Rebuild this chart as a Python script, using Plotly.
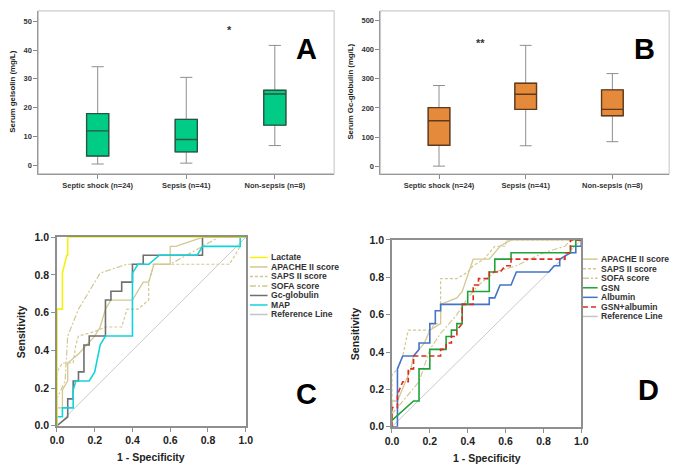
import plotly.graph_objects as go

W, H = 684, 474
FONT = "Liberation Sans, Arial, sans-serif"

# ---------------- Data: box plots ----------------
groups = ["Septic shock (n=24)", "Sepsis (n=41)", "Non-sepsis (n=8)"]
gsn_low = [0.4, 0.7, 6.8]
gsn_q1 = [3.2, 4.6, 13.9]
gsn_med = [11.9, 8.9, 24.7]
gsn_q3 = [17.9, 15.9, 26.0]
gsn_high = [34.2, 30.5, 41.6]

gc_low = [0, 70, 84]
gc_q1 = [72, 195, 173]
gc_med = [156, 247, 195]
gc_q3 = [201, 285, 262]
gc_high = [277, 415, 318]

# ---------------- Data: ROC panel C ----------------
lactate_fpr = [0, 0, 0.029, 0.029, 0.052, 0.057, 0.057, 1.0]
lactate_tpr = [0, 0.619, 0.619, 0.81, 0.905, 0.905, 1.0, 1.0]
apacheC_fpr = [0, 0, 0.029, 0.029, 0.057, 0.057, 0.114, 0.2, 0.229, 0.257, 0.286, 0.4, 0.457, 0.486, 0.514, 0.6, 0.6, 0.629, 0.771, 1.0]
apacheC_tpr = [0, 0.095, 0.095, 0.19, 0.238, 0.333, 0.381, 0.476, 0.524, 0.619, 0.667, 0.667, 0.762, 0.762, 0.857, 0.857, 0.952, 0.952, 1.0, 1.0]
sapsC_fpr = [0, 0, 0.029, 0.086, 0.1, 0.114, 0.2, 0.257, 0.343, 0.371, 0.429, 0.486, 0.486, 0.514, 0.914, 0.971, 0.971, 1.0]
sapsC_tpr = [0, 0.286, 0.333, 0.333, 0.429, 0.476, 0.5, 0.524, 0.524, 0.619, 0.619, 0.667, 0.762, 0.857, 0.857, 0.952, 1.0, 1.0]
sofaC_fpr = [0, 0, 0.043, 0.057, 0.114, 0.229, 0.371, 0.6, 0.857, 1.0]
sofaC_tpr = [0, 0.143, 0.238, 0.476, 0.619, 0.81, 0.857, 0.857, 1.0, 1.0]
gcC_fpr = [0, 0.057, 0.057, 0.086, 0.086, 0.114, 0.114, 0.143, 0.143, 0.171, 0.171, 0.257, 0.257, 0.286, 0.286, 0.343, 0.343, 0.4, 0.4, 0.457, 0.457, 0.771, 0.771, 1.0]
gcC_tpr = [0, 0.048, 0.143, 0.143, 0.238, 0.238, 0.286, 0.286, 0.429, 0.429, 0.476, 0.476, 0.667, 0.667, 0.714, 0.714, 0.762, 0.762, 0.857, 0.857, 0.905, 0.905, 1.0, 1.0]
mapC_fpr = [0, 0, 0.029, 0.029, 0.086, 0.086, 0.1, 0.171, 0.2, 0.229, 0.257, 0.4, 0.4, 0.429, 0.486, 0.543, 0.743, 0.771, 0.971, 0.971, 1.0]
mapC_tpr = [0, 0.048, 0.048, 0.095, 0.095, 0.19, 0.238, 0.238, 0.286, 0.429, 0.476, 0.476, 0.81, 0.857, 0.857, 0.905, 0.905, 0.952, 0.952, 1.0, 1.0]

# ---------------- Data: ROC panel D ----------------
apacheD_fpr = [0, 0, 0.029, 0.057, 0.1, 0.114, 0.171, 0.2, 0.257, 0.257, 0.343, 0.371, 0.429, 0.514, 0.571, 0.629, 1.0]
apacheD_tpr = [0, 0.138, 0.138, 0.207, 0.31, 0.379, 0.448, 0.517, 0.552, 0.655, 0.69, 0.724, 0.897, 0.897, 0.966, 1.0, 1.0]
sapsD_fpr = [0, 0, 0.029, 0.057, 0.086, 0.2, 0.229, 0.257, 0.257, 0.343, 0.4, 0.429, 0.486, 0.543, 0.6, 0.6, 1.0]
sapsD_tpr = [0, 0.276, 0.31, 0.379, 0.517, 0.517, 0.552, 0.552, 0.793, 0.793, 0.828, 0.862, 0.897, 0.966, 0.966, 1.0, 1.0]
sofaD_fpr = [0, 0, 0.029, 0.057, 0.114, 0.143, 0.2, 0.257, 0.343, 0.4, 0.457, 0.543, 0.657, 0.8, 0.914, 0.943, 1.0]
sofaD_tpr = [0, 0.069, 0.103, 0.138, 0.207, 0.241, 0.414, 0.5, 0.6, 0.69, 0.759, 0.828, 0.862, 0.931, 0.966, 1.0, 1.0]
gsnD_fpr = [0, 0.114, 0.143, 0.143, 0.2, 0.2, 0.286, 0.286, 0.314, 0.314, 0.343, 0.343, 0.371, 0.371, 0.4, 0.4, 0.514, 0.514, 0.543, 0.543, 0.629, 0.629, 0.943, 0.943, 0.971, 0.971, 1.0]
gsnD_tpr = [0.034, 0.138, 0.138, 0.31, 0.31, 0.414, 0.414, 0.483, 0.483, 0.517, 0.517, 0.552, 0.552, 0.655, 0.655, 0.724, 0.724, 0.828, 0.828, 0.897, 0.897, 0.931, 0.931, 0.966, 0.966, 1.0, 1.0]
albD_fpr = [0, 0.029, 0.029, 0.057, 0.114, 0.143, 0.143, 0.2, 0.2, 0.229, 0.229, 0.257, 0.257, 0.514, 0.514, 0.543, 0.571, 0.629, 0.657, 0.829, 0.857, 0.886, 0.886, 0.943, 0.971, 0.971, 1.0, 1.0]
albD_tpr = [0, 0, 0.31, 0.379, 0.379, 0.414, 0.448, 0.448, 0.552, 0.552, 0.621, 0.621, 0.655, 0.655, 0.69, 0.69, 0.759, 0.759, 0.828, 0.828, 0.862, 0.862, 0.897, 0.931, 0.931, 0.966, 0.966, 1.0]
comboD_fpr = [0, 0, 0.029, 0.029, 0.057, 0.086, 0.086, 0.114, 0.114, 0.257, 0.257, 0.286, 0.286, 0.314, 0.314, 0.343, 0.343, 0.371, 0.371, 0.429, 0.429, 0.457, 0.457, 0.514, 0.514, 0.571, 0.6, 0.629, 0.629, 0.914, 0.914, 0.943, 0.943, 1.0]
comboD_tpr = [0, 0.103, 0.103, 0.172, 0.241, 0.241, 0.31, 0.31, 0.379, 0.379, 0.414, 0.414, 0.448, 0.448, 0.483, 0.483, 0.517, 0.552, 0.655, 0.655, 0.759, 0.759, 0.793, 0.793, 0.828, 0.828, 0.862, 0.862, 0.897, 0.897, 0.931, 0.931, 1.0, 1.0]
ref_fpr = [0, 1]
ref_tpr = [0, 1]

# ---------------- Styles ----------------
TAN = "#d3c891"
C_LACT = "#f3f20c"
C_GC = "#6f6f6f"
C_MAP = "#12d3dc"
C_GSN = "#1ea33a"
C_ALB = "#4473c9"
C_COMBO = "#dd2a20"
C_REF = "#c4c4c4"
DASH_SAPS = "3px,2px"
DASH_SOFA = "6px,2px,2px,2px"
DASH_COMBO = "5px,3px"


def px(x):
    return x / W


def py(y):
    return 1 - y / H


fig = go.Figure()


def add_box(xa, ya, low, q1, med, q3, high, fill, edge):
    # whiskers (gray)
    fig.add_trace(go.Box(
        x=groups, lowerfence=low, q1=q1, median=med, q3=q3, upperfence=high,
        xaxis=xa, yaxis=ya, width=0.25, whiskerwidth=0.55,
        line=dict(color="#8e8e8e", width=1), fillcolor="rgba(0,0,0,0)",
        showlegend=False, hoverinfo="skip"))
    # filled box with darker edge/median
    fig.add_trace(go.Box(
        x=groups, lowerfence=q1, q1=q1, median=med, q3=q3, upperfence=q3,
        xaxis=xa, yaxis=ya, width=0.25, whiskerwidth=0,
        line=dict(color=edge, width=1.4), fillcolor=fill,
        showlegend=False))


add_box("x", "y", gsn_low, gsn_q1, gsn_med, gsn_q3, gsn_high, "#00cc88", "#25573f")
add_box("x2", "y2", gc_low, gc_q1, gc_med, gc_q3, gc_high, "#e48a3a", "#5e3a1c")


def add_roc(xa, ya, fpr, tpr, color, dash="solid", width=1.6, name=""):
    fig.add_trace(go.Scatter(x=fpr, y=tpr, mode="lines", xaxis=xa, yaxis=ya,
                             line=dict(color=color, dash=dash, width=width),
                             name=name, showlegend=False))


# panel C
add_roc("x3", "y3", ref_fpr, ref_tpr, C_REF, width=0.9, name="Reference Line")
add_roc("x3", "y3", sofaC_fpr, sofaC_tpr, TAN, DASH_SOFA, 1.2, "SOFA score")
add_roc("x3", "y3", sapsC_fpr, sapsC_tpr, TAN, DASH_SAPS, 1.2, "SAPS II score")
add_roc("x3", "y3", apacheC_fpr, apacheC_tpr, TAN, "solid", 1.3, "APACHE II score")
add_roc("x3", "y3", gcC_fpr, gcC_tpr, C_GC, "solid", 1.6, "Gc-globulin")
add_roc("x3", "y3", mapC_fpr, mapC_tpr, C_MAP, "solid", 1.6, "MAP")
add_roc("x3", "y3", lactate_fpr, lactate_tpr, C_LACT, "solid", 1.6, "Lactate")

# panel D
add_roc("x4", "y4", ref_fpr, ref_tpr, C_REF, width=0.9, name="Reference Line")
add_roc("x4", "y4", sofaD_fpr, sofaD_tpr, TAN, DASH_SOFA, 1.2, "SOFA score")
add_roc("x4", "y4", sapsD_fpr, sapsD_tpr, TAN, DASH_SAPS, 1.2, "SAPS II score")
add_roc("x4", "y4", apacheD_fpr, apacheD_tpr, TAN, "solid", 1.3, "APACHE II score")
add_roc("x4", "y4", albD_fpr, albD_tpr, C_ALB, "solid", 1.6, "Albumin")
add_roc("x4", "y4", gsnD_fpr, gsnD_tpr, C_GSN, "solid", 1.6, "GSN")
add_roc("x4", "y4", comboD_fpr, comboD_tpr, C_COMBO, DASH_COMBO, 1.6, "GSN+albumin")

tickfont_small = dict(family=FONT, size=7.5, color="#333333", weight="bold")
tickfont_big = dict(family=FONT, size=10.5, color="#222222", weight="bold")

box_x = dict(type="category", range=[-0.67, 2.67], showline=True, linecolor="#999999",
             linewidth=1, ticks="outside", ticklen=4, tickcolor="#888888",
             tickfont=tickfont_small, showgrid=False, zeroline=False, fixedrange=True)
box_y = dict(showline=True, linecolor="#999999", linewidth=1, ticks="outside", ticklen=4,
             tickcolor="#888888", tickfont=tickfont_small, showgrid=False, zeroline=False)
roc_x = dict(range=[0, 1], dtick=0.2, tickformat=".1f", showline=True, mirror=True,
             linecolor="#8f8f8f", linewidth=1.5, ticks="outside", ticklen=4,
             tickcolor="#8f8f8f", tickfont=tickfont_big, showgrid=False, zeroline=False)
roc_y = dict(roc_x)

fig.update_layout(
    width=W, height=H, margin=dict(l=0, r=0, t=0, b=0),
    paper_bgcolor="white", plot_bgcolor="white", showlegend=False,
    boxmode="overlay",
    xaxis=dict(box_x, domain=[px(32), px(334)], anchor="y"),
    yaxis=dict(box_y, domain=[py(172), py(5)], range=[-2.95, 53.6], dtick=10, anchor="x"),
    xaxis2=dict(box_x, domain=[px(381.3), px(676)], anchor="y2", range=[-0.675, 2.655]),
    yaxis2=dict(box_y, domain=[py(172.3), py(5)], range=[-26.8, 533.5], dtick=100, anchor="x2"),
    xaxis3=dict(roc_x, domain=[px(51), px(243.7)], anchor="y3"),
    yaxis3=dict(roc_y, domain=[py(430.7), py(237.3)], anchor="x3"),
    xaxis4=dict(roc_x, domain=[px(393), px(586.3)], anchor="y4"),
    yaxis4=dict(roc_y, domain=[py(431.7), py(240)], anchor="x4"),
)

shapes = []
# light frames for box panels
for xr, yr in (("x domain", "y domain"), ("x2 domain", "y2 domain")):
    shapes.append(dict(type="rect", xref=xr, yref=yr, x0=0, x1=1, y0=0, y1=1,
                       line=dict(color="#cccccc", width=1.2), layer="below"))

annotations = []


def ann(text, x, y, size, color="#222222", angle=0, xanchor="center", weight="bold"):
    annotations.append(dict(text=text, x=px(x), y=py(y), xref="paper", yref="paper",
                            showarrow=False, textangle=angle, xanchor=xanchor, yanchor="middle",
                            font=dict(family=FONT, size=size, color=color, weight=weight)))


# panel letters
ann("A", 306, 44, 29, "#000000")
ann("B", 651, 44, 29, "#000000")
ann("C", 306, 398, 29, "#000000")
ann("D", 655, 394, 29, "#000000")
# significance marks
ann("*", 226.7, 25, 11, "#333333")
ann("**", 483.7, 38, 11, "#333333")
# axis titles
ann("Serum gelsolin (mg/L)", 6, 88, 7.8, "#222222", -90)
ann("Serum Gc-globulin (mg/L)", 351, 88, 7.8, "#222222", -90)
ann("Sensitivity", 14, 334, 10.5, "#222222", -90)
ann("Sensitivity", 356, 336, 10.5, "#222222", -90)
ann("1 - Specificity", 147.3, 463, 10.5, "#222222")
ann("1 - Specificity", 489.6, 464, 10.5, "#222222")

# manual legends
legC = [("Lactate", C_LACT, "solid"), ("APACHE II score", TAN, "solid"),
        ("SAPS II score", TAN, DASH_SAPS), ("SOFA score", TAN, DASH_SOFA),
        ("Gc-globulin", C_GC, "solid"), ("MAP", C_MAP, "solid"),
        ("Reference Line", C_REF, "solid")]
legD = [("APACHE II score", TAN, "solid"), ("SAPS II score", TAN, DASH_SAPS),
        ("SOFA score", TAN, DASH_SOFA), ("GSN", C_GSN, "solid"),
        ("Albumin", C_ALB, "solid"), ("GSN+albumin", C_COMBO, DASH_COMBO),
        ("Reference Line", C_REF, "solid")]


def legend(items, x0, x1, tx, y0, step):
    for i, (label, color, dash) in enumerate(items):
        y = y0 + i * step
        shapes.append(dict(type="line", xref="paper", yref="paper", x0=px(x0), x1=px(x1),
                           y0=py(y), y1=py(y),
                           line=dict(color=color, width=1.5, dash=dash)))
        ann(label, tx, y, 8.6, "#333333", 0, "left")


legend(legC, 248, 266, 267, 258, 9.75)
legend(legD, 588, 603, 604, 259.7, 9.8)

fig.update_layout(shapes=shapes, annotations=annotations)
fig.write_html("out.html")
